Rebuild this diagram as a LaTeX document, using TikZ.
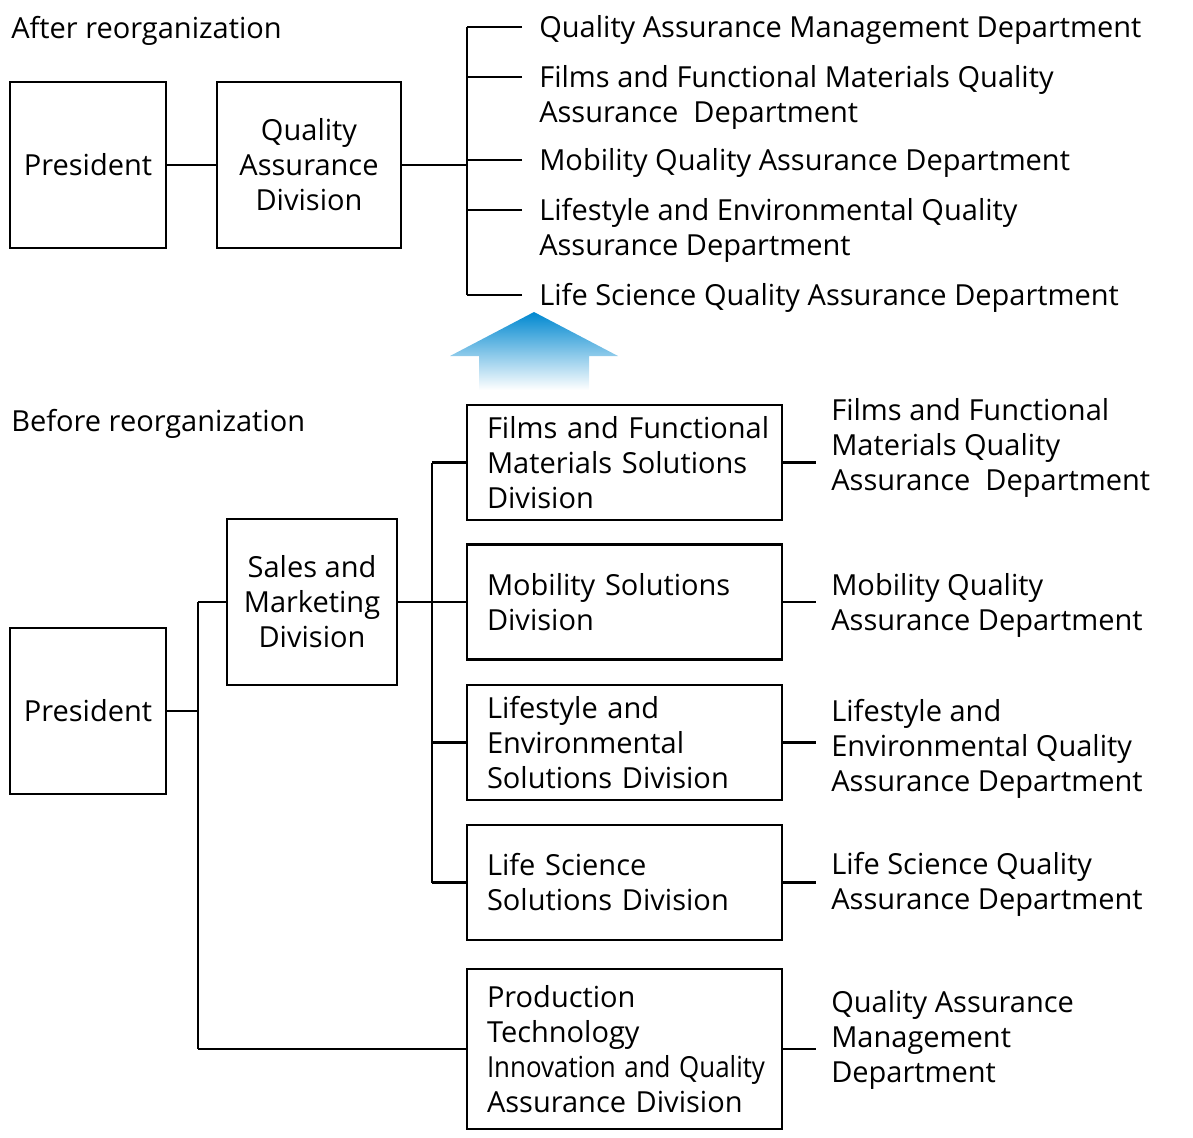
\documentclass[tikz,border=0pt]{standalone}
\usepackage{fontspec}
\usepackage{graphicx}
\setmainfont{Open Sans}
\definecolor{arrowblue}{RGB}{0,136,208}
\tikzset{every picture/.style={line width=1.3pt}}

\begin{document}
\begin{tikzpicture}[x=0.5pt,y=-0.5pt,
	font=\fontsize{14.5}{17.5}\selectfont,
	unitbox/.style={draw,align=center,inner sep=0pt,minimum width=#1,minimum height=83pt},
	divbox/.style={draw,align=left,text width=137.5pt,inner xsep=10pt,inner ysep=0pt,minimum height=#1},
	dept/.style={anchor=west,align=left,inner sep=0pt,yshift=-1.5pt},
	title/.style={anchor=base west,inner sep=0pt}]
	\useasboundingbox (0,0) rectangle (1193,1137);
	%After
	\node[title] (after) at (10,38) {After reorganization};
	\node[unitbox=78pt] (pres1) at (88,165) {President};
	\node[unitbox=92pt] (qad) at (309,165) {Quality\\Assurance\\Division};
	\draw (pres1) -- (qad);
	%Nhanh tren
	\foreach \y [count=\i] in {27,77,160,210,295}
		\coordinate (e\i) at (522,\y);
	\coordinate (t1) at (467,27);
	\coordinate (t5) at (467,295);
	\draw (t1) -- (t5);
	\draw (qad) -- (qad -| t1);
	\foreach \i in {1,...,5}
		\draw (e\i) -- (e\i -| t1);
	\node[dept] (ta1) at (538,27) {Quality Assurance Management Department};
	\node[dept] (ta2) at (538,94) {Films and Functional Materials Quality\\Assurance~ Department};
	\node[dept] (ta3) at (538,160) {Mobility Quality Assurance Department};
	\node[dept] (ta4) at (538,227) {Lifestyle and Environmental Quality\\Assurance Department};
	\node[dept] (ta5) at (538,295) {Life Science Quality Assurance Department};
	%Mui ten
	\shade[top color=arrowblue,bottom color=white]
		(534,312) -- (618,356) -- (589,356) -- (589,390) -- (479,390) -- (479,356) -- (450,356) -- cycle;
	%Before
	\node[title] (before) at (10,431) {Before reorganization};
	\node[unitbox=78pt] (pres2) at (88,711) {President};
	\node[unitbox=85pt] (sales) at (312,602) {Sales and\\Marketing\\Division};
	\node[divbox=57.5pt] (div1) at (624.5,462.5) {\mbox{Films and Functional}\\Materials Solutions\\Division};
	\node[divbox=57.5pt] (div2) at (624.5,602) {Mobility Solutions\\Division};
	\node[divbox=57.5pt] (div3) at (624.5,742.5) {Lifestyle and\\Environmental\\Solutions Division};
	\node[divbox=57.5pt] (div4) at (624.5,882.5) {Life Science\\Solutions Division};
	\node[divbox=80pt] (div5) at (624.5,1049) {Production\\Technology\\\resizebox{139pt}{\height}{Innovation and Quality}\\Assurance Division};
	%Duong noi
	\coordinate (p1) at (198,602);
	\coordinate (p2) at (198,1049);
	\draw (pres2) -- (pres2 -| p1);
	\draw (p1) -- (p2);
	\draw (p1) -- (sales);
	\draw (p2) -- (div5);
	\coordinate (q1) at (432,462.5);
	\coordinate (q4) at (432,882.5);
	\draw (q1) -- (q4);
	\draw (sales) -- (sales -| q1);
	\foreach \i in {1,...,4}
		\draw (div\i) -- (div\i -| q1);
	\foreach \i in {1,...,5}{
		\coordinate (r\i) at ([xshift=16.5pt]div\i.east);
		\draw (div\i) -- (r\i);
	}
	%Phong ban
	\node[dept] (rd1) at (830,445) {Films and Functional\\Materials Quality\\Assurance~ Department};
	\node[dept] (rd2) at (830,602) {Mobility Quality\\Assurance Department};
	\node[dept] (rd3) at (830,746) {Lifestyle and\\Environmental Quality\\Assurance Department};
	\node[dept] (rd4) at (830,881) {Life Science Quality\\Assurance Department};
	\node[dept] (rd5) at (830,1037) {Quality Assurance\\Management\\Department};
\end{tikzpicture}
\end{document}
